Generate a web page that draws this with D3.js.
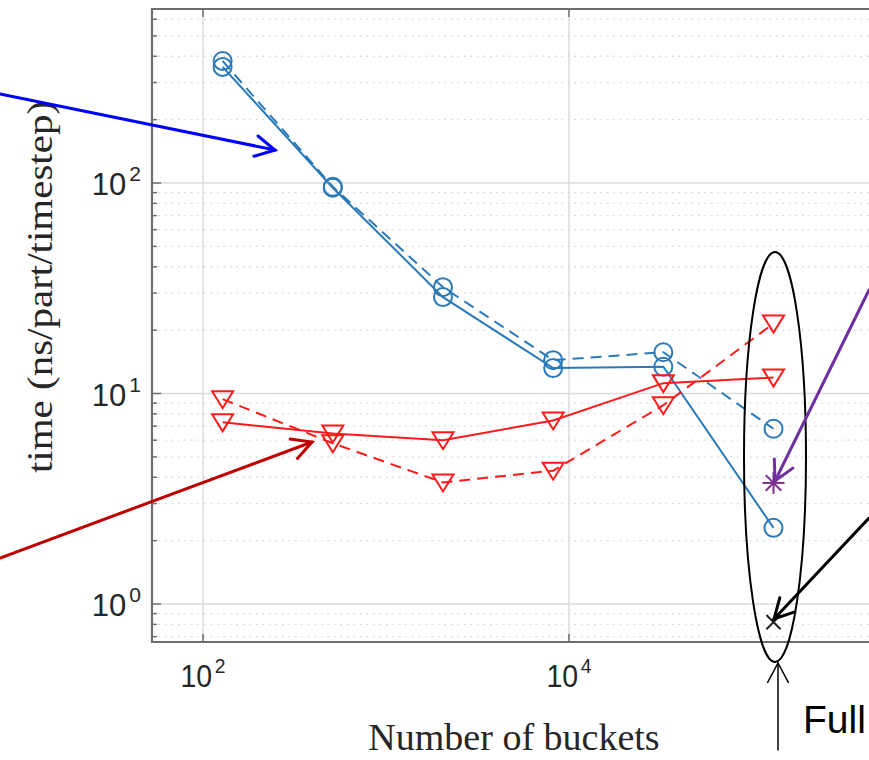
<!DOCTYPE html>
<html>
<head>
<meta charset="utf-8">
<script src="https://cdn.jsdelivr.net/npm/d3@7.9.0/dist/d3.min.js"></script>
<style>
  html, body { margin: 0; padding: 0; background: #fff; }
  svg { display: block; }
</style>
</head>
<body>
<svg id="chart" width="869" height="760"></svg>
<script>
// data
const buckets = [128, 512, 2048, 8192, 32768, 131072];
const blueSolid = [356, 95, 28.7, 13.2, 13.4, 2.3];
const blueDashed = [380, 96, 32, 14.4, 15.7, 6.8];
const redSolid = [7.3, 6.45, 6.0, 7.45, 11.2, 11.9];
const redDashed = [9.4, 5.8, 3.78, 4.3, 8.8, 21.5];
const fullBuckets = [131072];
const fullStar = [3.76];
const fullCross = [0.82];
const xTickExps = [2, 4];
const yTickExps = [0, 1, 2];

const svg = d3.select("#chart");

const x = d3.scaleLog().domain([1e2, 1e4]).range([203, 569]);
const y = d3.scaleLog().domain([1, 100]).range([604, 183]);

const plotL = 152, plotT = 9, plotB = 642, plotR = 900;
const yMin = y.invert(plotB), yMax = y.invert(plotT);

// grid
const grid = svg.append("g");
const minor = [];
for (let d = -1; d <= 2; d++) {
  for (let m = 2; m <= 9; m++) {
    const v = m * Math.pow(10, d);
    if (v > yMin && v < yMax) minor.push(v);
  }
}
grid.selectAll("line.minor")
  .data(minor)
  .enter()
  .append("line")
  .attr("x1", plotL).attr("x2", plotR)
  .attr("y1", d => y(d)).attr("y2", d => y(d))
  .attr("stroke", "#d4d4d4")
  .attr("stroke-width", 1.3)
  .attr("stroke-dasharray", "1.5,5");

grid.selectAll("line.hmaj")
  .data(yTickExps)
  .enter()
  .append("line")
  .attr("x1", plotL).attr("x2", plotR)
  .attr("y1", d => y(Math.pow(10, d))).attr("y2", d => y(Math.pow(10, d)))
  .attr("stroke", "#dcdcdc")
  .attr("stroke-width", 1.5);

grid.selectAll("line.vmaj")
  .data(xTickExps)
  .enter()
  .append("line")
  .attr("x1", d => x(Math.pow(10, d))).attr("x2", d => x(Math.pow(10, d)))
  .attr("y1", plotT).attr("y2", plotB)
  .attr("stroke", "#dcdcdc")
  .attr("stroke-width", 1.5);

// series
const series = [
  { vals: blueDashed, color: "#2a7ab9", dash: "11,7", marker: "o" },
  { vals: blueSolid, color: "#2a7ab9", dash: null, marker: "o" },
  { vals: redDashed, color: "#ff1a1a", dash: "11,7", marker: "v" },
  { vals: redSolid, color: "#ff1a1a", dash: null, marker: "v" }
];

const line = d3.line()
  .x(d => x(d[0]))
  .y(d => y(d[1]));

series.forEach(s => {
  const pts = buckets.map((b, i) => [b, s.vals[i]]);
  svg.append("path")
    .attr("d", line(pts))
    .attr("fill", "none")
    .attr("stroke", s.color)
    .attr("stroke-width", 2)
    .attr("stroke-dasharray", s.dash);

  const g = svg.append("g");
  if (s.marker === "o") {
    g.selectAll("circle")
      .data(pts)
      .enter()
      .append("circle")
      .attr("cx", d => x(d[0]))
      .attr("cy", d => y(d[1]))
      .attr("r", 9)
      .attr("fill", "none")
      .attr("stroke", s.color)
      .attr("stroke-width", 2);
  } else {
    g.selectAll("path")
      .data(pts)
      .enter()
      .append("path")
      .attr("d", d => {
        const cx = x(d[0]), cy = y(d[1]);
        return `M${cx - 10.5},${cy - 8}L${cx + 10.5},${cy - 8}L${cx},${cy + 9}Z`;
      })
      .attr("fill", "none")
      .attr("stroke", s.color)
      .attr("stroke-width", 2);
  }
});

// full-run markers
const star = svg.append("g")
  .selectAll("g")
  .data(fullBuckets.map((b, i) => [b, fullStar[i]]))
  .enter()
  .append("g")
  .attr("transform", d => `translate(${x(d[0])},${y(d[1])})`);
[0, 45, 90, 135].forEach(a => {
  star.append("line")
    .attr("x1", -11).attr("x2", 11)
    .attr("transform", `rotate(${a})`)
    .attr("stroke", "#7e2f8e")
    .attr("stroke-width", 2);
});

const cross = svg.append("g")
  .selectAll("g")
  .data(fullBuckets.map((b, i) => [b, fullCross[i]]))
  .enter()
  .append("g")
  .attr("transform", d => `translate(${x(d[0])},${y(d[1])})`);
[45, 135].forEach(a => {
  cross.append("line")
    .attr("x1", -10).attr("x2", 10)
    .attr("transform", `rotate(${a})`)
    .attr("stroke", "#222")
    .attr("stroke-width", 2);
});

// axes box and ticks
const axisColor = "#6e6e6e";
svg.append("path")
  .attr("d", `M${plotR},${plotT}H${plotL}V${plotB}H${plotR}`)
  .attr("fill", "none")
  .attr("stroke", axisColor)
  .attr("stroke-width", 2.2);

svg.append("g").selectAll("line")
  .data(minor)
  .enter()
  .append("line")
  .attr("x1", plotL).attr("x2", plotL + 5)
  .attr("y1", d => y(d)).attr("y2", d => y(d))
  .attr("stroke", axisColor).attr("stroke-width", 1.5);

svg.append("g").selectAll("line")
  .data(yTickExps)
  .enter()
  .append("line")
  .attr("x1", plotL).attr("x2", plotL + 9)
  .attr("y1", d => y(Math.pow(10, d))).attr("y2", d => y(Math.pow(10, d)))
  .attr("stroke", axisColor).attr("stroke-width", 1.5);

svg.append("g").selectAll("line")
  .data(xTickExps)
  .enter()
  .append("line")
  .attr("x1", d => x(Math.pow(10, d))).attr("x2", d => x(Math.pow(10, d)))
  .attr("y1", plotB).attr("y2", plotB - 8)
  .attr("stroke", axisColor).attr("stroke-width", 1.5);

svg.append("g").selectAll("line")
  .data(xTickExps)
  .enter()
  .append("line")
  .attr("x1", d => x(Math.pow(10, d))).attr("x2", d => x(Math.pow(10, d)))
  .attr("y1", plotT).attr("y2", plotT + 8)
  .attr("stroke", axisColor).attr("stroke-width", 1.5);

// tick labels
const sans = "'Liberation Sans', Arial, Helvetica, sans-serif";
const serif = "'Liberation Serif', 'Times New Roman', serif";

function powLabel(g, exp, anchor) {
  const t = g.append("text")
    .attr("font-family", sans)
    .attr("font-size", 31)
    .attr("fill", "#262626")
    .attr("text-anchor", anchor);
  t.append("tspan").text("10");
  t.append("tspan")
    .attr("font-size", 21)
    .attr("dx", 3)
    .attr("dy", -14)
    .text(exp);
}

xTickExps.forEach(e => {
  const g = svg.append("g")
    .attr("transform", `translate(${x(Math.pow(10, e))},687) scale(0.92,1)`);
  powLabel(g, e, "middle");
});

yTickExps.forEach(e => {
  const g = svg.append("g")
    .attr("transform", `translate(141,${y(Math.pow(10, e)) + 12})`);
  powLabel(g, e, "end");
});

// axis labels
svg.append("text")
  .attr("x", 514).attr("y", 750)
  .attr("text-anchor", "middle")
  .attr("font-family", serif)
  .attr("font-size", 38)
  .attr("fill", "#262626")
  .text("Number of buckets");

svg.append("text")
  .attr("transform", "translate(52,287) scale(0.85,1) rotate(-90)")
  .attr("text-anchor", "middle")
  .attr("font-family", serif)
  .attr("font-size", 41)
  .attr("fill", "#262626")
  .text("time (ns/part/timestep)");

// annotations
svg.append("ellipse")
  .attr("cx", 775).attr("cy", 457)
  .attr("rx", 31).attr("ry", 205)
  .attr("fill", "none")
  .attr("stroke", "#000")
  .attr("stroke-width", 2);

function arrow(x1, y1, x2, y2, color, width, headLen) {
  const g = svg.append("g")
    .attr("stroke", color)
    .attr("stroke-width", width)
    .attr("stroke-linecap", "round")
    .attr("fill", "none");
  g.append("line").attr("x1", x1).attr("y1", y1).attr("x2", x2).attr("y2", y2);
  const ang = Math.atan2(y2 - y1, x2 - x1);
  const spread = 28 * Math.PI / 180;
  const pts = [ang + Math.PI - spread, ang + Math.PI + spread]
    .map(a => [x2 + headLen * Math.cos(a), y2 + headLen * Math.sin(a)]);
  g.append("path")
    .attr("d", `M${pts[0][0]},${pts[0][1]}L${x2},${y2}L${pts[1][0]},${pts[1][1]}`)
    .attr("stroke-linejoin", "miter");
}

arrow(0, 94, 275, 150, "#0000ff", 3, 22);
arrow(0, 558, 312, 442, "#c00000", 3, 22);
arrow(869, 290, 775, 481, "#7030a0", 3, 22);
arrow(869, 518, 774, 619, "#000000", 3, 22);
arrow(778, 750, 778, 663, "#000000", 1.5, 22);

svg.append("text")
  .attr("x", 803).attr("y", 733)
  .attr("font-family", sans)
  .attr("font-size", 39)
  .attr("fill", "#000")
  .text("Full");
</script>
</body>
</html>
